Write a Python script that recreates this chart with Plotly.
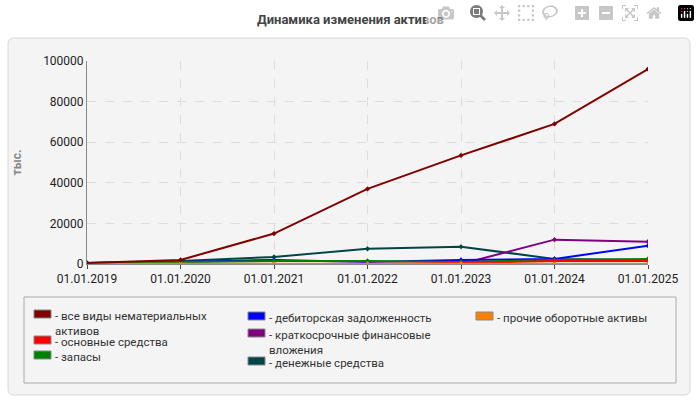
import plotly.graph_objects as go

dates = ["01.01.2019","01.01.2020","01.01.2021","01.01.2022","01.01.2023","01.01.2024","01.01.2025"]
names = ["все виды нематериальных<br>активов","основные средства","запасы","дебиторская задолженность",
         "краткосрочные финансовые<br>вложения","денежные средства","прочие оборотные активы"]
colors = ["#800000","#ff0000","#008000","#0000ff","#800080","#004545","#ff8000"]
nma = [500, 2000, 15000, 37000, 53500, 69000, 96000]
os_sr = [0, 0, 0, 0, 500, 1500, 1500]
zapasy = [500, 1000, 1500, 1500, 1000, 2000, 2500]
debit = [500, 1000, 2000, 1000, 2000, 2500, 9000]
kfv = [0, 0, 0, 0, 0, 12000, 11000]
den = [500, 1500, 3500, 7500, 8500, 2500, 2000]
proch = [100, 100, 100, 100, 100, 100, 100]
series = [nma, os_sr, zapasy, debit, kfv, den, proch]
draw_order = [5, 4, 3, 2, 1, 6, 0]

L, R, T, B = 87, 648, 61, 264
def px(x): return (x - L) / (R - L)
def py(y): return (B - y) / (B - T)

fig = go.Figure()
for i in draw_order:
    fig.add_trace(go.Scatter(x=list(range(7)), y=series[i], mode="lines+markers",
                             line=dict(color=colors[i], width=2), marker=dict(size=4, symbol="diamond", color=colors[i]),
                             showlegend=False))

shapes = [dict(type="path", xref="paper", yref="paper", layer="below",
               path=f"M {px(14)},{py(38)} L {px(684)},{py(38)} Q {px(690)},{py(38)} {px(690)},{py(44)} L {px(690)},{py(389)} Q {px(690)},{py(395)} {px(684)},{py(395)} L {px(14)},{py(395)} Q {px(8)},{py(395)} {px(8)},{py(389)} L {px(8)},{py(44)} Q {px(8)},{py(38)} {px(14)},{py(38)} Z",
               fillcolor="#f4f4f4", line=dict(color="#d8d8d8", width=1)),
          dict(type="rect", xref="paper", yref="paper", x0=px(24), x1=px(676), y0=py(297), y1=py(383),
               fillcolor="#f4f4f4", line=dict(color="#aaaaaa", width=1))]
annotations = [dict(text="<b>Динамика изменения активов</b>", xref="paper", yref="paper", x=px(350), y=py(20),
                    showarrow=False, font=dict(size=13, color="#444"), xanchor="center", yanchor="middle")]
pos = [(34, 314), (34, 340), (34, 355), (248, 316), (248, 333), (248, 361), (476, 316)]
for i, (lx, ly) in enumerate(pos):
    shapes.append(dict(type="rect", xref="paper", yref="paper", x0=px(lx), x1=px(lx + 17), y0=py(ly - 4), y1=py(ly + 4),
                       fillcolor=colors[i], line=dict(color="#888", width=1)))
    annotations.append(dict(text="- " + names[i], xref="paper", yref="paper", x=px(lx + 19), y=py(ly - 7),
                            xanchor="left", yanchor="top", align="left", showarrow=False,
                            font=dict(size=11.5, color="#333")))

fig.update_layout(
    width=700, height=400, paper_bgcolor="white", plot_bgcolor="#fbfbf6",
    margin=dict(l=L, r=700 - R, t=T, b=400 - B),
    font=dict(family="Roboto", size=12, color="#222"),
    shapes=shapes, annotations=annotations,
    xaxis=dict(tickmode="array", tickvals=list(range(7)), ticktext=dates, range=[0, 6],
               showgrid=True, gridcolor="#dddddd", griddash="dash", zeroline=False,
               showline=True, linecolor="#888", ticks="outside", ticklen=4),
    yaxis=dict(range=[0, 100000], dtick=20000, tickformat="d", showgrid=True, gridcolor="#dddddd", griddash="dash",
               zeroline=False, showline=True, linecolor="#888",
               title=dict(text="<b>тыс.</b>", font=dict(size=12, color="#888"), standoff=18)),
)
fig.write_html("out.html", post_script="document.body.style.margin='0';")
